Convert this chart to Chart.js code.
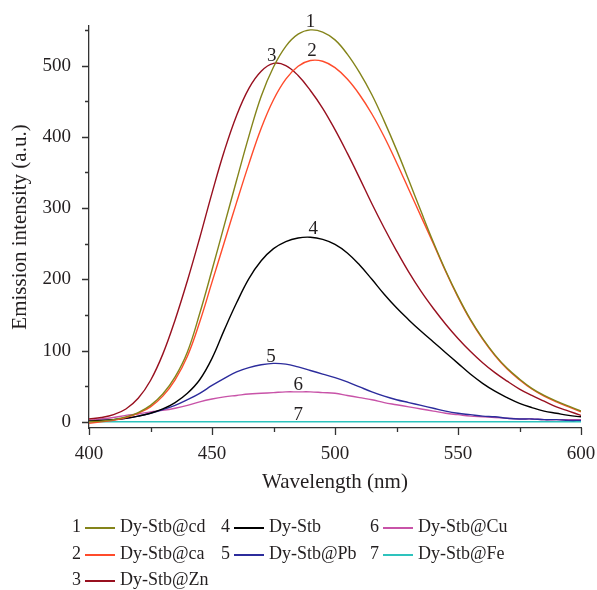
<!DOCTYPE html>
<html><head><meta charset="utf-8">
<script src="https://cdn.jsdelivr.net/npm/chart.js@4.4.0/dist/chart.umd.min.js"></script>
<style>html,body{margin:0;padding:0;background:#fff}canvas{display:block}</style>
</head><body>
<canvas id="c" width="597" height="590"></canvas>
<script>
// ---------------- data ----------------
const wavelengths = [400,405,410,415,420,425,430,435,440,445,450,455,460,465,470,475,480,485,490,495,500,505,510,515,520,525,530,535,540,545,550,555,560,565,570,575,580,585,590,595,600];
const seriesNumbers = ['1','2','3','4','5','6','7'];
const seriesNames = ['Dy-Stb@cd','Dy-Stb@ca','Dy-Stb@Zn','Dy-Stb','Dy-Stb@Pb','Dy-Stb@Cu','Dy-Stb@Fe'];
const dyStbCd = [0,1,3,7,13,23,39,63,98,152,213,276,339,401,457,498,527,544,550,547,536,516,490,459,422,382,339,295,252,212,176,144,117,94,75,60,47,37,29,22,15];
const dyStbCa = [-2,0,2,6,12,21,36,59,92,140,196,252,308,362,412,452,481,499,507,506,497,481,459,432,400,364,326,288,250,211,175,143,116,93,74,59,46,36,28,21,14];
const dyStbZn = [4,6,10,18,33,58,95,143,198,258,321,380,430,468,492,503,500,486,465,440,410,377,342,306,272,240,210,183,159,137,117,99,83,69,57,46,37,29,21,15,9];
const dyStb   = [1,2,3,5,8,12,18,27,40,59,89,129,167,201,226,243,253,258,259,256,249,237,220,200,179,160,143,127,112,97,82,67,54,43,34,26,20,15,12,9,7];
const dyStbPb = [1,2,3,5,8,12,17,23,31,40,51,61,70,76,80,82,81,77,72,67,62,56,49,42,36,31,27,23,19,15,12,10,8,7,5,4,4,3,3,2,2];
const dyStbCu = [2,4,6,9,11,14,16,19,23,28,32,35,37,39,40,41,42,42,42,41,40,37,34,31,27,24,21,18,15,12,10,8,7,6,5,4,4,3,3,3,3];
const dyStbFe = [0,0,0,0,0,0,0,0,0,0,0,0,0,0,0,0,0,0,0,0,0,0,0,0,0,0,0,0,0,0,0,0,0,0,0,0,0,0,0,0,0];
const xTickValues = [400,450,500,550,600];
const xMinorTickValues = [425,475,525,575];
const yTickValues = [0,100,200,300,400,500];
const yMinorTickValues = [50,150,250,350,450,550];
// curve number tags (wavelength, intensity)
const tagWavelength = [490.0,490.6,474.3,491.2,474.0,485.1,485.1];
const tagIntensity = [561,520,514,271,91,52,10];

// ---------------- style ----------------
const seriesValues = [dyStbCd,dyStbCa,dyStbZn,dyStb,dyStbPb,dyStbCu,dyStbFe];
const colors = ['#84841a','#ff4b2b','#98101f','#000000','#2c2c9c','#c853a8','#2ec3bd'];
const FONT = '"Liberation Serif","Times New Roman",serif';
const textColor = '#231f20';
const axisColor = '#333333';

const datasets = seriesValues.map((vals,i)=>({
  label: seriesNames[i],
  data: wavelengths.map((w,j)=>({x:w,y:vals[j]})),
  borderColor: colors[i],
  borderWidth: 1.4,
  pointRadius: 0,
  fill: false,
  tension: 0.4
}));

const decor = {
  id: 'decor',
  afterDraw(chart){
    const ctx = chart.ctx, xs = chart.scales.x, ys = chart.scales.y, ca = chart.chartArea;
    ctx.save();
    ctx.strokeStyle = axisColor; ctx.lineWidth = 1.3;
    ctx.beginPath();
    xTickValues.forEach(v=>{const p=Math.round(xs.getPixelForValue(v))+0.5; ctx.moveTo(p,ca.bottom); ctx.lineTo(p,ca.bottom+7);});
    xMinorTickValues.forEach(v=>{const p=Math.round(xs.getPixelForValue(v))+0.5; ctx.moveTo(p,ca.bottom); ctx.lineTo(p,ca.bottom+4);});
    yTickValues.forEach(v=>{const p=Math.round(ys.getPixelForValue(v))+0.5; ctx.moveTo(ca.left,p); ctx.lineTo(ca.left-7,p);});
    yMinorTickValues.forEach(v=>{const p=Math.round(ys.getPixelForValue(v))+0.5; ctx.moveTo(ca.left,p); ctx.lineTo(ca.left-4,p);});
    ctx.stroke();
    // curve tags
    ctx.fillStyle = textColor;
    ctx.font = '19px ' + FONT;
    ctx.textAlign = 'center'; ctx.textBaseline = 'middle';
    seriesNumbers.forEach((n,i)=>{
      ctx.fillText(n, xs.getPixelForValue(tagWavelength[i]), ys.getPixelForValue(tagIntensity[i]));
    });
    // legend
    const cols = [[0,1,2],[3,4],[5,6]];
    const colX = [72,221,370];
    const rowY = [527,554,580];
    ctx.font = '18px ' + FONT;
    ctx.textAlign = 'left';
    cols.forEach((col,ci)=>{
      col.forEach((si,ri)=>{
        const x = colX[ci], y = rowY[ri];
        ctx.fillStyle = textColor;
        ctx.fillText(seriesNumbers[si], x, y);
        ctx.strokeStyle = colors[si]; ctx.lineWidth = 2;
        ctx.beginPath(); ctx.moveTo(x+13,y+1); ctx.lineTo(x+43,y+1); ctx.stroke();
        ctx.fillText(seriesNames[si], x+48, y);
      });
    });
    ctx.restore();
  }
};

new Chart(document.getElementById('c'), {
  type: 'line',
  data: { datasets },
  options: {
    responsive: false,
    animation: false,
    events: [],
    layout: { padding: { top: 26, right: 16, bottom: 95, left: 0 } },
    plugins: { legend: { display: false }, tooltip: { enabled: false } },
    scales: {
      x: {
        type: 'linear', min: 400, max: 600,
        afterBuildTicks: s => { s.ticks = xTickValues.map(v=>({value:v})); },
        afterFit: s => { s.height = 67; s.paddingLeft = 0; s.paddingRight = 0; },
        grid: { display: true, drawOnChartArea: false, drawTicks: false },
        border: { display: true, color: axisColor, width: 1.3 },
        ticks: { padding: 15, color: textColor, font: { family: FONT, size: 19 }, maxRotation: 0 },
        title: { display: true, text: 'Wavelength (nm)', color: textColor, font: { family: FONT, size: 21 }, padding: { top: 0, bottom: 0 } }
      },
      y: {
        type: 'linear', min: -8.7, max: 555.5,
        afterBuildTicks: s => { s.ticks = yTickValues.map(v=>({value:v})); },
        afterFit: s => { s.width = 89; s.paddingTop = 0; s.paddingBottom = 0; },
        grid: { display: true, drawOnChartArea: false, drawTicks: false },
        border: { display: true, color: axisColor, width: 1.3 },
        ticks: { padding: 18, color: textColor, font: { family: FONT, size: 19 } },
        title: { display: true, text: 'Emission intensity (a.u.)', color: textColor, font: { family: FONT, size: 21 }, padding: { top: 8, bottom: 0 } }
      }
    }
  },
  plugins: [decor]
});
</script>
</body></html>
